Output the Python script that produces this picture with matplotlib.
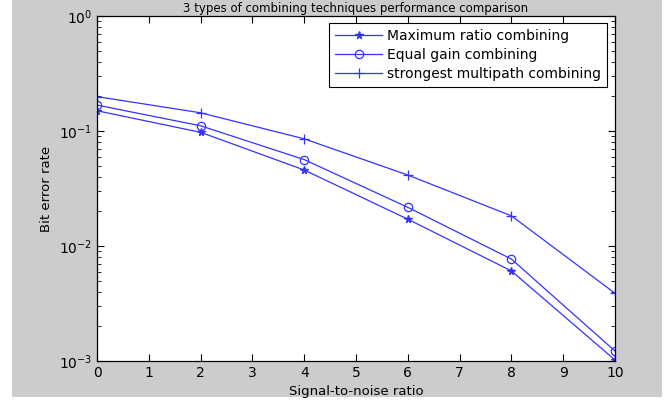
import matplotlib
matplotlib.use("Agg")
import matplotlib.pyplot as plt
from matplotlib.patches import Rectangle
from matplotlib.ticker import LogLocator, NullFormatter

snr = [0, 2, 4, 6, 8, 10]
mrc = [0.150, 0.0974, 0.0458, 0.0171, 0.00607, 0.00102]
egc = [0.168, 0.111, 0.0564, 0.0217, 0.0077, 0.00122]
smc = [0.199, 0.144, 0.0855, 0.0414, 0.0183, 0.00388]
labels = ["Maximum ratio combining", "Equal gain combining", "strongest multipath combining"]
title = "3 types of combining techniques performance comparison"
xlabel = "Signal-to-noise ratio"
ylabel = "Bit error rate"

plt.rcParams['font.family'] = ['DejaVu Sans']
W, H = 668, 400
fig = plt.figure(figsize=(W / 100, H / 100), dpi=100, facecolor='white')
fig.patches.append(Rectangle((12 / W, 3 / H), (662 - 12) / W, (400 - 3) / H,
                             transform=fig.transFigure, facecolor='#cccccc',
                             edgecolor='none', zorder=-10))

ax = fig.add_axes([97 / W, 1 - 361 / H, (615 - 97) / W, (361 - 16) / H])
col = '#3333ff'
ax.semilogy(snr, mrc, '-*', color=col, lw=0.9, ms=5.5, label=labels[0])
ax.semilogy(snr, egc, '-o', color=col, lw=0.9, ms=6, mfc='none', mew=0.9, label=labels[1])
ax.semilogy(snr, smc, '-+', color=col, lw=0.9, ms=7.5, mew=0.9, label=labels[2])

ax.set_xlim(0, 10)
ax.set_ylim(1e-3, 1)
ax.set_xticks(range(0, 11))
ax.yaxis.set_major_locator(LogLocator(base=10, numticks=10))
ax.yaxis.set_minor_locator(LogLocator(base=10, subs=range(2, 10), numticks=20))
ax.yaxis.set_minor_formatter(NullFormatter())
ax.tick_params(which='both', direction='in', top=True, right=True, labelsize=10, colors='black')
ax.tick_params(which='major', length=5, width=0.8)
ax.tick_params(which='minor', length=3, width=0.6)
for s in ax.spines.values():
    s.set_linewidth(0.9)

ax.set_xlabel(xlabel, fontsize=9.5, labelpad=4)
ax.set_ylabel(ylabel, fontsize=9.5, labelpad=4)

fig.text((97 + 615) / 2 / W, 1 - 12 / H, title, ha='center', va='baseline', fontsize=8.5)

leg = ax.legend(loc='upper right', bbox_to_anchor=(0.985, 0.98), borderaxespad=0,
                fontsize=10, handlelength=3.4, handletextpad=0.35, labelspacing=0.35,
                borderpad=0.45, fancybox=False, framealpha=1, edgecolor='black')
leg.get_frame().set_linewidth(0.8)

fig.savefig('out.png', dpi=100, facecolor=fig.get_facecolor())
